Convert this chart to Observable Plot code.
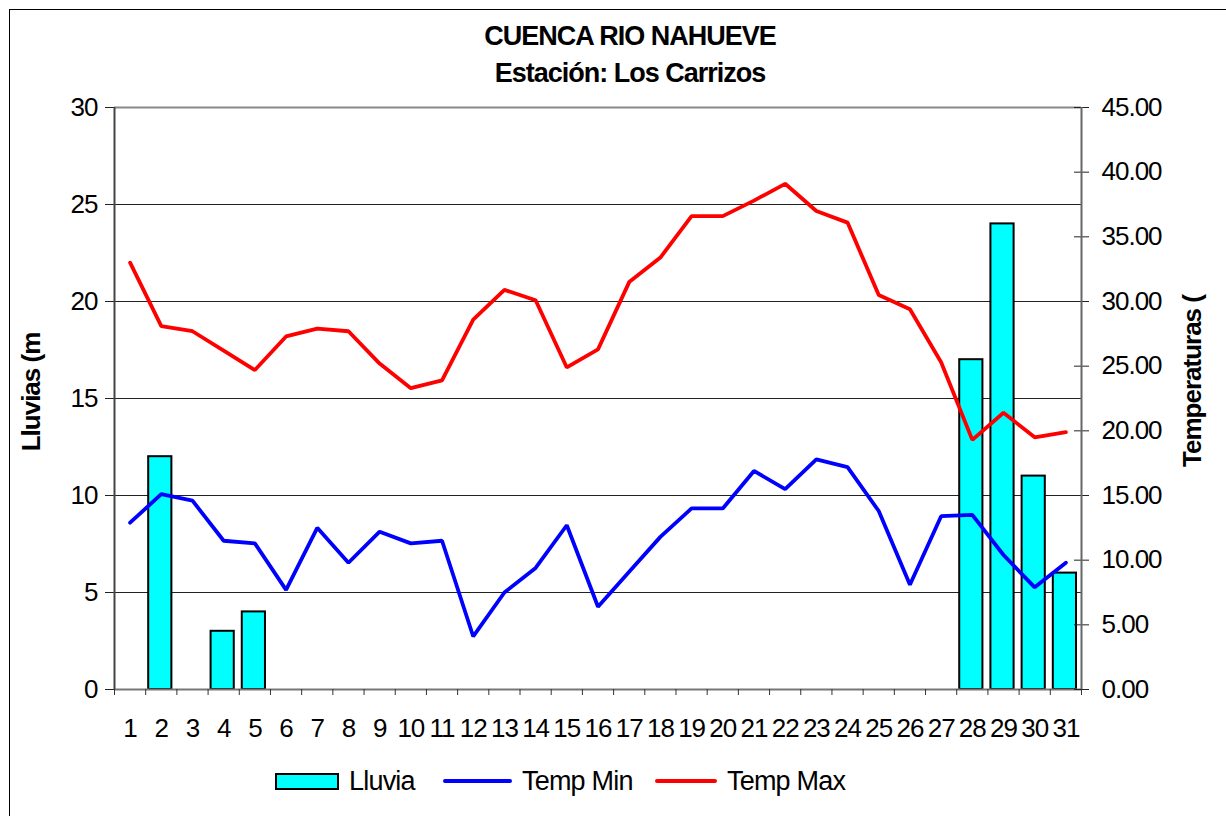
<!DOCTYPE html>
<html><head><meta charset="utf-8">
<script src="https://cdn.jsdelivr.net/npm/d3@7"></script>
<script src="https://cdn.jsdelivr.net/npm/@observablehq/plot@0.6"></script>
<style>
body{margin:0;background:#fff;}
#wrap{position:relative;width:1226px;height:816px;overflow:hidden;font-family:"Liberation Sans",Arial,sans-serif;color:#000;}
#frame{position:absolute;left:9px;top:9px;width:1240px;height:830px;border:1px solid #000;}
#chart{position:absolute;left:0;top:0;}
.title{position:absolute;left:30px;width:1200px;text-align:center;font-weight:bold;font-size:27px;letter-spacing:-1px;line-height:30px;}
.ylab{position:absolute;font-weight:bold;font-size:26px;letter-spacing:-1px;white-space:nowrap;transform:translate(-50%,-50%) rotate(-90deg);line-height:30px;}
.leg{position:absolute;font-size:27px;letter-spacing:-0.8px;line-height:30px;top:766px;white-space:nowrap;}
.sw{position:absolute;}
</style>
</head><body>
<div id="wrap">
  <div id="frame"></div>
  <div id="chart"></div>
  <div class="title" style="top:21px">CUENCA RIO NAHUEVE</div>
  <div class="title" style="top:58px">Estación: Los Carrizos</div>
  <div class="ylab" style="left:31px;top:392px">Lluvias (m</div>
  <div class="ylab" style="left:1192px;top:381px">Temperaturas (</div>
  <div class="sw" style="left:275px;top:773px;width:60px;height:13px;background:#00ffff;border:2px solid #000;"></div>
  <div class="leg" style="left:349px">Lluvia</div>
  <div class="sw" style="left:443px;top:779px;width:69px;height:4px;background:#0000ff;border-radius:2px;"></div>
  <div class="leg" style="left:522px">Temp Min</div>
  <div class="sw" style="left:655px;top:779px;width:62px;height:4px;background:#ff0000;border-radius:2px;"></div>
  <div class="leg" style="left:727px">Temp Max</div>
</div>
<script>
const days = d3.range(1, 32);
const lluvia = [0,12,0,3,4,0,0,0,0,0,0,0,0,0,0,0,0,0,0,0,0,0,0,0,0,0,0,17,24,11,6];
const tempMin = [12.9,15.1,14.6,11.5,11.3,7.7,12.5,9.8,12.2,11.3,11.5,4.1,7.5,9.4,12.7,6.4,9.1,11.8,14.0,14.0,16.9,15.5,17.8,17.2,13.8,8.1,13.4,13.5,10.4,7.9,9.8];
const tempMax = [33.0,28.1,27.7,26.2,24.7,27.3,27.9,27.7,25.2,23.3,23.9,28.6,30.9,30.1,24.9,26.3,31.5,33.4,36.6,36.6,37.8,39.1,37.0,36.1,30.5,29.4,25.3,19.3,21.4,19.5,19.9];
const leftTicks = [0,5,10,15,20,25,30];
const rightTicks = [0,5,10,15,20,25,30,35,40,45];

const ratio = 30 / 45; // temperature -> rain axis units
const W = 1226, H = 816, mL = 114, mR = 145, mT = 107, mB = 127;
const step = (W - mL - mR) / days.length;
const pxPerUnit = (H - mT - mB) / 30;

const rain = days.map((d, i) => ({day: d, v: lluvia[i]})).filter(d => d.v > 0);
const tmin = days.map((d, i) => ({day: d, v: tempMin[i] * ratio}));
const tmax = days.map((d, i) => ({day: d, v: tempMax[i] * ratio}));

const plot = Plot.plot({
  width: W, height: H,
  marginLeft: mL, marginRight: mR, marginTop: mT, marginBottom: mB,
  style: {fontFamily: '"Liberation Sans", Arial, sans-serif', fontSize: "26px", letterSpacing: "-1px", color: "#000", background: "transparent", overflow: "visible"},
  x: {type: "band", domain: days, padding: 0, round: false},
  y: {domain: [0, 30]},
  marks: [
    Plot.ruleY(leftTicks.filter(t => t > 0 && t < 30), {stroke: "#222", strokeWidth: 1}),
    Plot.ruleY([30], {stroke: "#888", strokeWidth: 2}),
    Plot.barY(rain, {x: "day", y: "v", fill: "#00ffff", stroke: "#000", strokeWidth: 2, insetLeft: 3, insetRight: 5}),
    Plot.line(tmin, {x: "day", y: "v", stroke: "#0000ff", strokeWidth: 3.8, strokeLinejoin: "miter"}),
    Plot.line(tmax, {x: "day", y: "v", stroke: "#ff0000", strokeWidth: 3.8, strokeLinejoin: "miter"}),
    Plot.ruleY([0], {stroke: "#777", strokeWidth: 2}),
    // x ticks between categories
    Plot.ruleX(days, {x: d => d, dx: -step / 2, y1: 0, y2: -6 / pxPerUnit, stroke: "#333", strokeWidth: 1}),
    Plot.ruleX([days[days.length - 1]], {x: d => d, dx: step / 2, y1: 0, y2: -6 / pxPerUnit, stroke: "#333", strokeWidth: 1}),
    // left axis
    Plot.axisY(leftTicks, {anchor: "left", tickSize: 9, tickPadding: 8, label: null, stroke: "#222"}),
    Plot.ruleX([days[0]], {x: d => d, dx: -step / 2, stroke: "#444", strokeWidth: 2}),
    // right axis (temperatures)
    Plot.axisY(rightTicks.map(t => t * ratio), {anchor: "right", tickSize: 7, tickPadding: 13, label: null, tickFormat: d => (d / ratio).toFixed(2), stroke: "#222"}),
    Plot.ruleY(rightTicks.map(t => t * ratio), {insetLeft: W - mL - mR - 7, stroke: "#222"}),
    Plot.ruleX([days[days.length - 1]], {x: d => d, dx: step / 2, stroke: "#666", strokeWidth: 2}),
    // x labels
    Plot.axisX(days, {tickSize: 0, tickPadding: 29, label: null})
  ]
});
document.getElementById("chart").appendChild(plot);
</script>
</body></html>
